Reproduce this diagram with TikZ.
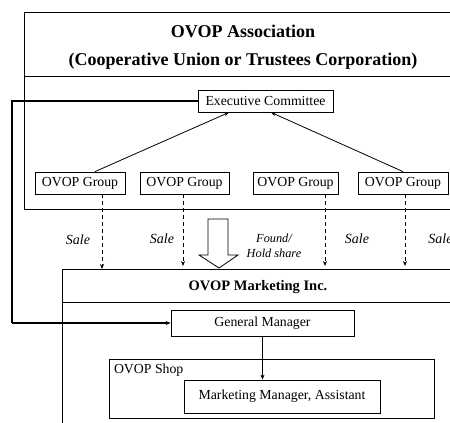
\documentclass[tikz,border=0pt]{standalone}
\usepackage{fontspec}
\setmainfont{Liberation Serif}
\usetikzlibrary{arrows.meta}
\begin{document}
\begin{tikzpicture}[x=1pt,y=-1pt,
  line width=0.8pt,
  box/.style={draw, fill=white, inner sep=0pt, font=\fontsize{13.8}{15}\selectfont},
  title/.style={font=\fontsize{18}{20}\selectfont\bfseries, inner sep=0pt},
  sale/.style={font=\fontsize{14}{16}\selectfont\itshape, inner sep=0pt},
  tip/.style={-{Stealth[length=5pt,width=4pt]}},
  flow/.style={tip, dash pattern=on 4pt off 3pt},
  link/.style={line width=1.2pt}]
\useasboundingbox (0,0) rectangle (450,423);
\clip (0,0) rectangle (450,423);

% OVOP Association frame
\draw (460,12) -- (24,12) -- (24,209) -- (460,209);
\draw (24,76) -- (460,76);
\node[title] (t1) at (243,31) {OVOP Association};
\node[title] (t2) at (243,61) {(Cooperative Union or Trustees Corporation)};

\node[box, minimum width=135, minimum height=22] (exec) at (265.5,101) {Executive Committee};

\node[box, minimum width=90, minimum height=22] (g1) at (80,183) {OVOP Group};
\node[box, minimum width=89, minimum height=22] (g2) at (184.5,183) {OVOP Group};
\node[box, minimum width=85, minimum height=22] (g3) at (295.5,183) {OVOP Group};
\node[box, minimum width=90, minimum height=22] (g4) at (403,183) {OVOP Group};

\draw[tip] ([xshift=15]g1.north) -- ([xshift=-36.5]exec.south);
\draw[tip] (g4.north) -- ([xshift=5.5]exec.south);

% OVOP Marketing Inc. frame
\draw (460,269) -- (62,269) -- (62,430);
\draw (62,302) -- (460,302);
\node[title, font=\fontsize{14.5}{16}\selectfont\bfseries] (t3) at (258,287) {OVOP Marketing Inc.};

% sales flows
\coordinate (m1) at (102,269);
\coordinate (m2) at (183,266);
\coordinate (m3) at (325,266);
\coordinate (m4) at (405,266);
\draw[flow] ([xshift=22]g1.south) -- (m1);
\draw[flow] ([xshift=-1.5]g2.south) -- (m2);
\draw[flow] ([xshift=29.5]g3.south) -- (m3);
\draw[flow] ([xshift=2]g4.south) -- (m4);
\node[sale] (s1) at (78,240) {Sale};
\node[sale] (s2) at (162,239) {Sale};
\node[sale] (s3) at (357,239) {Sale};
\node[sale, anchor=west] (s4) at (428,239) {Sale};
\node[sale, font=\fontsize{12.3}{15}\selectfont\itshape, align=center] (fh) at (274,245.5) {Found/\\Hold share};

% hollow block arrow
\draw (208,219) -- (228,219) -- (228,255) -- (238,255) -- (219,268) -- (199,255) -- (208,255) -- cycle;

\node[box, minimum width=183, minimum height=26] (gm) at (262.5,323) {General Manager};

\node[draw, minimum width=325, minimum height=59, inner sep=0pt] (shop) at (271.5,388.5) {};
\node[anchor=north west, inner sep=0pt, font=\fontsize{13.8}{15}\selectfont] (shopl) at ([xshift=5,yshift=-5]shop.north west) {OVOP Shop};
\node[box, minimum width=196, minimum height=33] (mm) at (282,396.5) {Marketing Manager, Assistant};

\draw[tip] (gm.south) -- (gm.south |- mm.north);

% committee to general manager
\coordinate (lft) at (12,0);
\draw[link] (exec.west) -- (exec.west -| lft) -- (lft |- gm.west);
\draw[link, tip] (lft |- gm.west) -- (gm.west);
\end{tikzpicture}
\end{document}
